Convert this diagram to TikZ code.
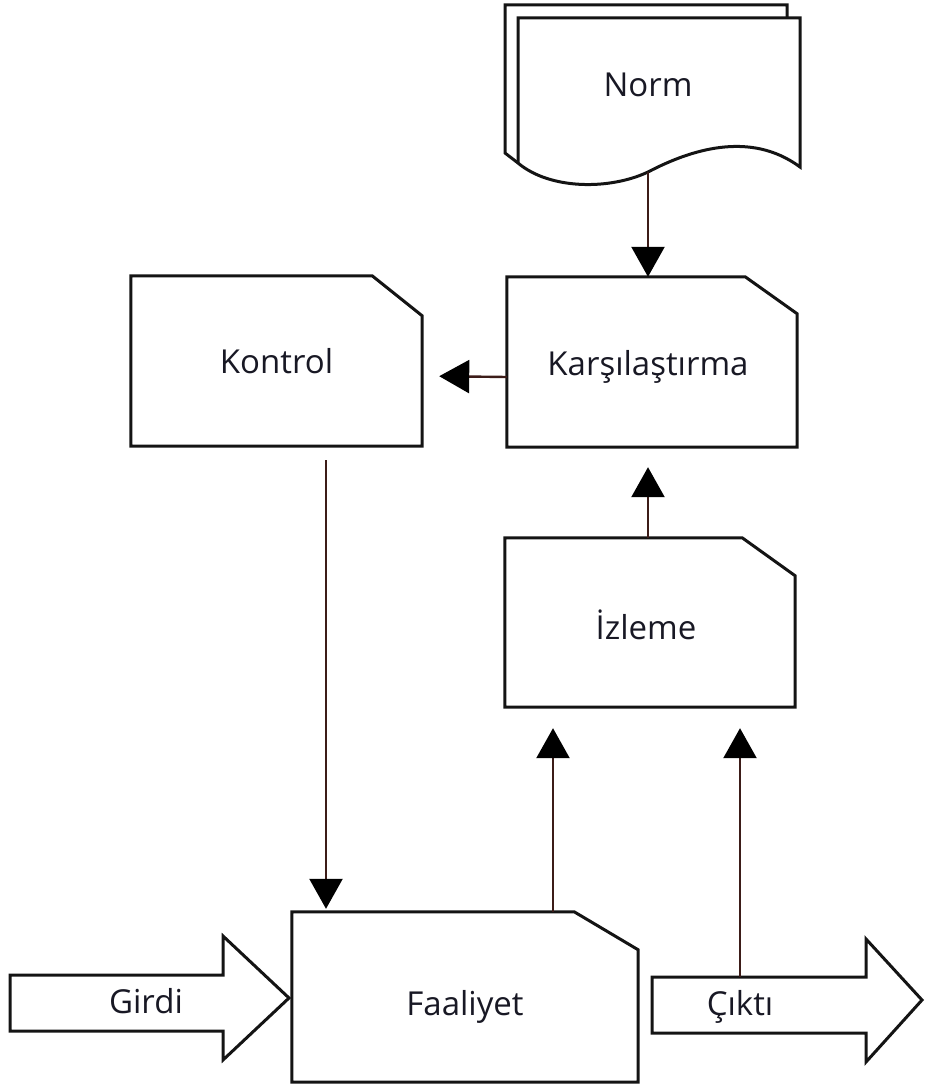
\documentclass[tikz,border=0pt]{standalone}
\usepackage{fontspec}
\setmainfont{Open Sans}
\usetikzlibrary{arrows.meta}
\definecolor{inkline}{RGB}{20,20,20}
\definecolor{wire}{RGB}{60,28,24}
\definecolor{txt}{RGB}{24,24,36}
\newcommand\chamferbox[3]{%
  \draw[boxline] (#1.south west) -- (#1.north west) -- ([xshift=-#2pt]#1.north east)
    -- ([yshift=-#3pt]#1.north east) -- (#1.south east) -- cycle;}
% text lowered inside a box node without changing the node size
\newcommand\lowered[2]{\raisebox{#1}[0pt][0pt]{#2}}
\begin{document}
\begin{tikzpicture}[x=1pt,y=-1pt,
  boxline/.style={draw=inkline,line width=3pt,line join=miter,fill=none},
  boxnode/.style={inner sep=0pt,text=txt,font=\fontsize{33}{36}\selectfont},
  lbl/.style={inner sep=0pt,text=txt,font=\fontsize{33}{36}\selectfont},
  conn/.style={draw=wire,line width=2.4pt,-{Triangle[length=30pt,width=33pt,fill=black,color=black]}},
  bigarrow/.style={draw=inkline,line width=3pt,line join=miter,fill=white}]
\useasboundingbox (0,0) rectangle (928,1086);

% Norm: a stack of two document sheets with wavy lower edges
\draw[boxline,fill=white] (518,163) -- (505,153) -- (505,5) -- (787,5) -- (787,18);
\draw[boxline,fill=white] (518,163) -- (518,18) -- (800,18) -- (800,167)
  .. controls (750,130) and (690,150) .. (648,172)
  .. controls (610,190) and (550,190) .. (518,163) -- cycle;
\node[lbl] (norm) at (648,85) {Norm};
\coordinate (normfoot) at (648,172);

% process boxes with a cut corner
\node[boxnode,minimum width=291pt,minimum height=170pt] (kontrol) at (276.5,361) {\lowered{-12pt}{Kontrol}};
\chamferbox{kontrol}{50}{40}
\node[boxnode,minimum width=290pt,minimum height=170pt] (karsi) at (652,362) {\hspace*{-8pt}\lowered{-13pt}{Karşılaştırma}};
\chamferbox{karsi}{52}{37}
\node[boxnode,minimum width=290pt,minimum height=169pt] (izleme) at (650,622.5) {\hspace*{-8pt}\lowered{-17pt}{İzleme}};
\chamferbox{izleme}{53}{38}
\node[boxnode,minimum width=346pt,minimum height=170pt] (faaliyet) at (465,997) {\lowered{-18pt}{Faaliyet}};
\chamferbox{faaliyet}{64}{38}

% input and output block arrows
\draw[bigarrow] (10,975) -- (223,975) -- (223,936) -- (289,998) -- (223,1060)
  -- (223,1031) -- (10,1031) -- cycle;
\node[lbl] (girdi) at (146,1001) {Girdi};
\draw[bigarrow] (652,977) -- (866,977) -- (866,939) -- (922,1000) -- (866,1062)
  -- (866,1033) -- (652,1033) -- cycle;
\node[lbl] (cikti) at (740,1007) {Çıktı};
\coordinate (ciktitop) at (740,977);

% connectors
\draw[conn] (normfoot) -- (karsi.north -| normfoot);
\draw[conn,shorten >=17pt] ([yshift=-15pt]karsi.west) -- ([yshift=-15pt]kontrol.east);
\draw[conn,shorten >=20pt] (izleme.north -| normfoot) -- (karsi.south -| normfoot);
\draw[conn,shorten >=21pt] ([xshift=88pt]faaliyet.north) -- ([xshift=88pt]faaliyet.north |- izleme.south);
\draw[conn,shorten >=21pt] (ciktitop) -- (izleme.south -| ciktitop);
\draw[conn,shorten <=14pt,shorten >=3pt] ([xshift=49.5pt]kontrol.south) -- ([xshift=49.5pt]kontrol.south |- faaliyet.north);
\end{tikzpicture}
\end{document}
